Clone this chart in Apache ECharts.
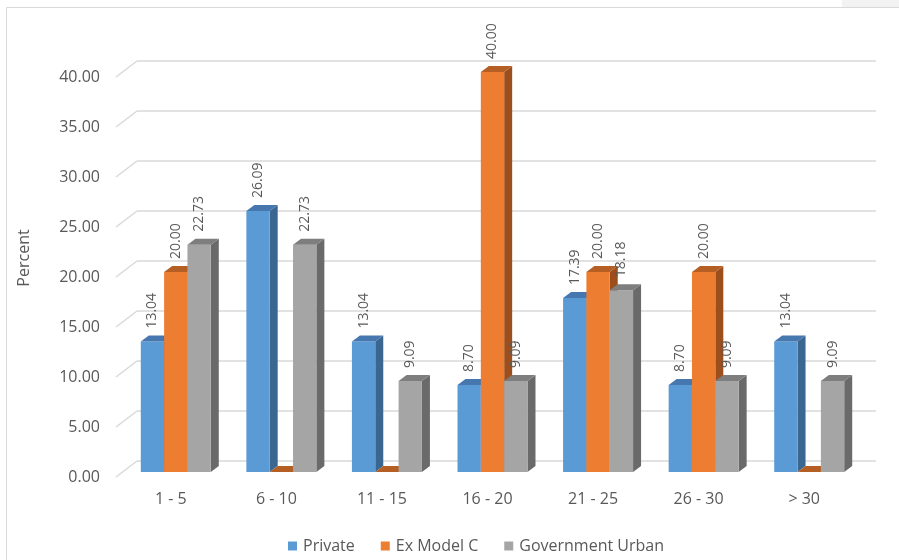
<!DOCTYPE html>
<html>
<head>
<meta charset="utf-8">
<script src="https://cdn.jsdelivr.net/npm/echarts@6/dist/echarts.min.js"></script>
<style>
  html, body { margin: 0; padding: 0; background: #fff; }
  #chart { width: 899px; height: 560px; }
</style>
</head>
<body>
<div id="chart"></div>
<script>
// Years-of-experience bands
const categories = ['1 - 5', '6 - 10', '11 - 15', '16 - 20', '21 - 25', '26 - 30', '> 30'];

// Percent of teachers in each band, per school type
const privateVals = [13.04, 26.09, 13.04, 8.70, 17.39, 8.70, 13.04];
const exModelCVals = [20.00, 0, 0, 40.00, 20.00, 20.00, 0];
const govUrbanVals = [22.73, 22.73, 9.09, 9.09, 18.18, 9.09, 9.09];

const seriesNames = ['Private', 'Ex Model C', 'Government Urban'];

// Value-axis ticks
const yTicks = [0, 5, 10, 15, 20, 25, 30, 35, 40];

const FONT = '"Open Sans", "Noto Sans", sans-serif';
const TEXT = '#595959';
const GRID = '#d9d9d9';

// Front / side / top shades for each series
const shades = [
  { front: '#5b9bd5', side: '#3b6690', top: '#4677ae' },
  { front: '#ed7d31', side: '#9c4f1d', top: '#b55f24' },
  { front: '#a5a5a5', side: '#6a6a6a', top: '#7e7e7e' }
];

const DEPTH_X = 8, DEPTH_Y = 6;   // extrusion of each box
const BAR_FRAC = 0.221;           // bar width as share of a category band

function boxRenderer(k) {
  return function (params, api) {
    const i = api.value(0), v = api.value(1);
    const base = api.coord([i, 0]);
    const topPt = api.coord([i, v]);
    const band = api.size([1, 0])[0];
    const w = band * BAR_FRAC;
    const x0 = base[0] - 1.5 * w + k * w;
    const x1 = x0 + w;
    const yb = base[1], yt = topPt[1];
    const s = shades[k];
    const children = [
      { type: 'polygon', shape: { points: [[x1, yt], [x1 + DEPTH_X, yt - DEPTH_Y], [x1 + DEPTH_X, yb - DEPTH_Y], [x1, yb]] },
        style: { fill: s.side } },
      { type: 'polygon', shape: { points: [[x0, yt], [x1, yt], [x1, yb], [x0, yb]] },
        style: { fill: s.front } },
      { type: 'polygon', shape: { points: [[x0, yt], [x0 + DEPTH_X, yt - DEPTH_Y], [x1 + DEPTH_X, yt - DEPTH_Y], [x1, yt]] },
        style: { fill: s.top } }
    ];
    if (v !== 0) {
      children.push({
        type: 'text',
        x: (x0 + x1) / 2,
        y: yt - 13,
        rotation: Math.PI / 2,
        style: { text: v.toFixed(2), align: 'left', verticalAlign: 'middle',
                 fill: TEXT, font: '14px ' + FONT }
      });
    }
    return { type: 'group', children: children };
  };
}

function seriesData(vals) { return vals.map((v, i) => [i, v]); }

const valueSets = [privateVals, exModelCVals, govUrbanVals];

const chart = echarts.init(document.getElementById('chart'), null, { renderer: 'canvas' });

chart.setOption({
  animation: false,
  backgroundColor: '#ffffff',
  textStyle: { fontFamily: FONT },
  graphic: [
    { type: 'rect', shape: { x: 6.5, y: 7.5, width: 1000, height: 700 },
      style: { fill: 'none', stroke: GRID, lineWidth: 1 }, silent: true },
    { type: 'rect', shape: { x: 842, y: 0, width: 57, height: 7 },
      style: { fill: '#f2f2f2' }, silent: true },
    { type: 'text', x: 24, y: 258, rotation: Math.PI / 2,
      style: { text: 'Percent', align: 'center', verticalAlign: 'middle',
               fill: TEXT, font: '16px ' + FONT } }
  ],
  legend: {
    left: 283, top: 533,
    icon: 'rect', itemWidth: 9, itemHeight: 9, itemGap: 26,
    textStyle: { color: TEXT, fontSize: 16, fontFamily: FONT, padding: [0, 0, 0, 1] },
    data: seriesNames
  },
  grid: [
    // back wall with gridlines
    { left: 137, right: 23, top: 61, bottom: 99 },
    // front edge carrying the value labels
    { left: 116, width: 21, top: 77, bottom: 83 },
    // plane in which the boxes stand
    { left: 123, right: 37, top: 72, bottom: 88 }
  ],
  xAxis: [
    { gridIndex: 0, type: 'category', data: categories, show: false },
    { gridIndex: 1, type: 'value', min: 0, max: 1, show: false },
    { gridIndex: 2, type: 'category', data: categories,
      axisLine: { show: false }, axisTick: { show: false },
      axisLabel: { color: TEXT, fontSize: 16, fontFamily: FONT, margin: 19, padding: [0, 10, 0, 0] } }
  ],
  yAxis: [
    { gridIndex: 0, type: 'value', min: 0, max: 40, interval: 5,
      axisLabel: { show: false }, axisLine: { show: false }, axisTick: { show: false },
      splitLine: { lineStyle: { color: GRID, width: 1.5 } } },
    { gridIndex: 1, type: 'value', min: 0, max: 40, interval: 5,
      axisLine: { show: false }, axisTick: { show: false }, splitLine: { show: false },
      axisLabel: { color: TEXT, fontSize: 16, fontFamily: FONT, margin: 16,
                   formatter: v => v.toFixed(2) } },
    { gridIndex: 2, type: 'value', min: 0, max: 40, show: false }
  ],
  series: [
    // slanted floor/wall edges joining each tick to the back wall
    {
      type: 'custom', xAxisIndex: 1, yAxisIndex: 1, silent: true,
      data: yTicks.map(t => [0, t]),
      renderItem: function (params, api) {
        const p = api.coord([0, api.value(1)]);
        return { type: 'line', shape: { x1: p[0], y1: p[1], x2: p[0] + 21, y2: p[1] - 16 },
                 style: { stroke: GRID, lineWidth: 1.5 } };
      }
    }
  ].concat(valueSets.map((vals, k) => ({
    name: seriesNames[k],
    type: 'custom', xAxisIndex: 2, yAxisIndex: 2,
    itemStyle: { color: shades[k].front },
    data: seriesData(vals),
    renderItem: boxRenderer(k)
  })))
});
</script>
</body>
</html>
